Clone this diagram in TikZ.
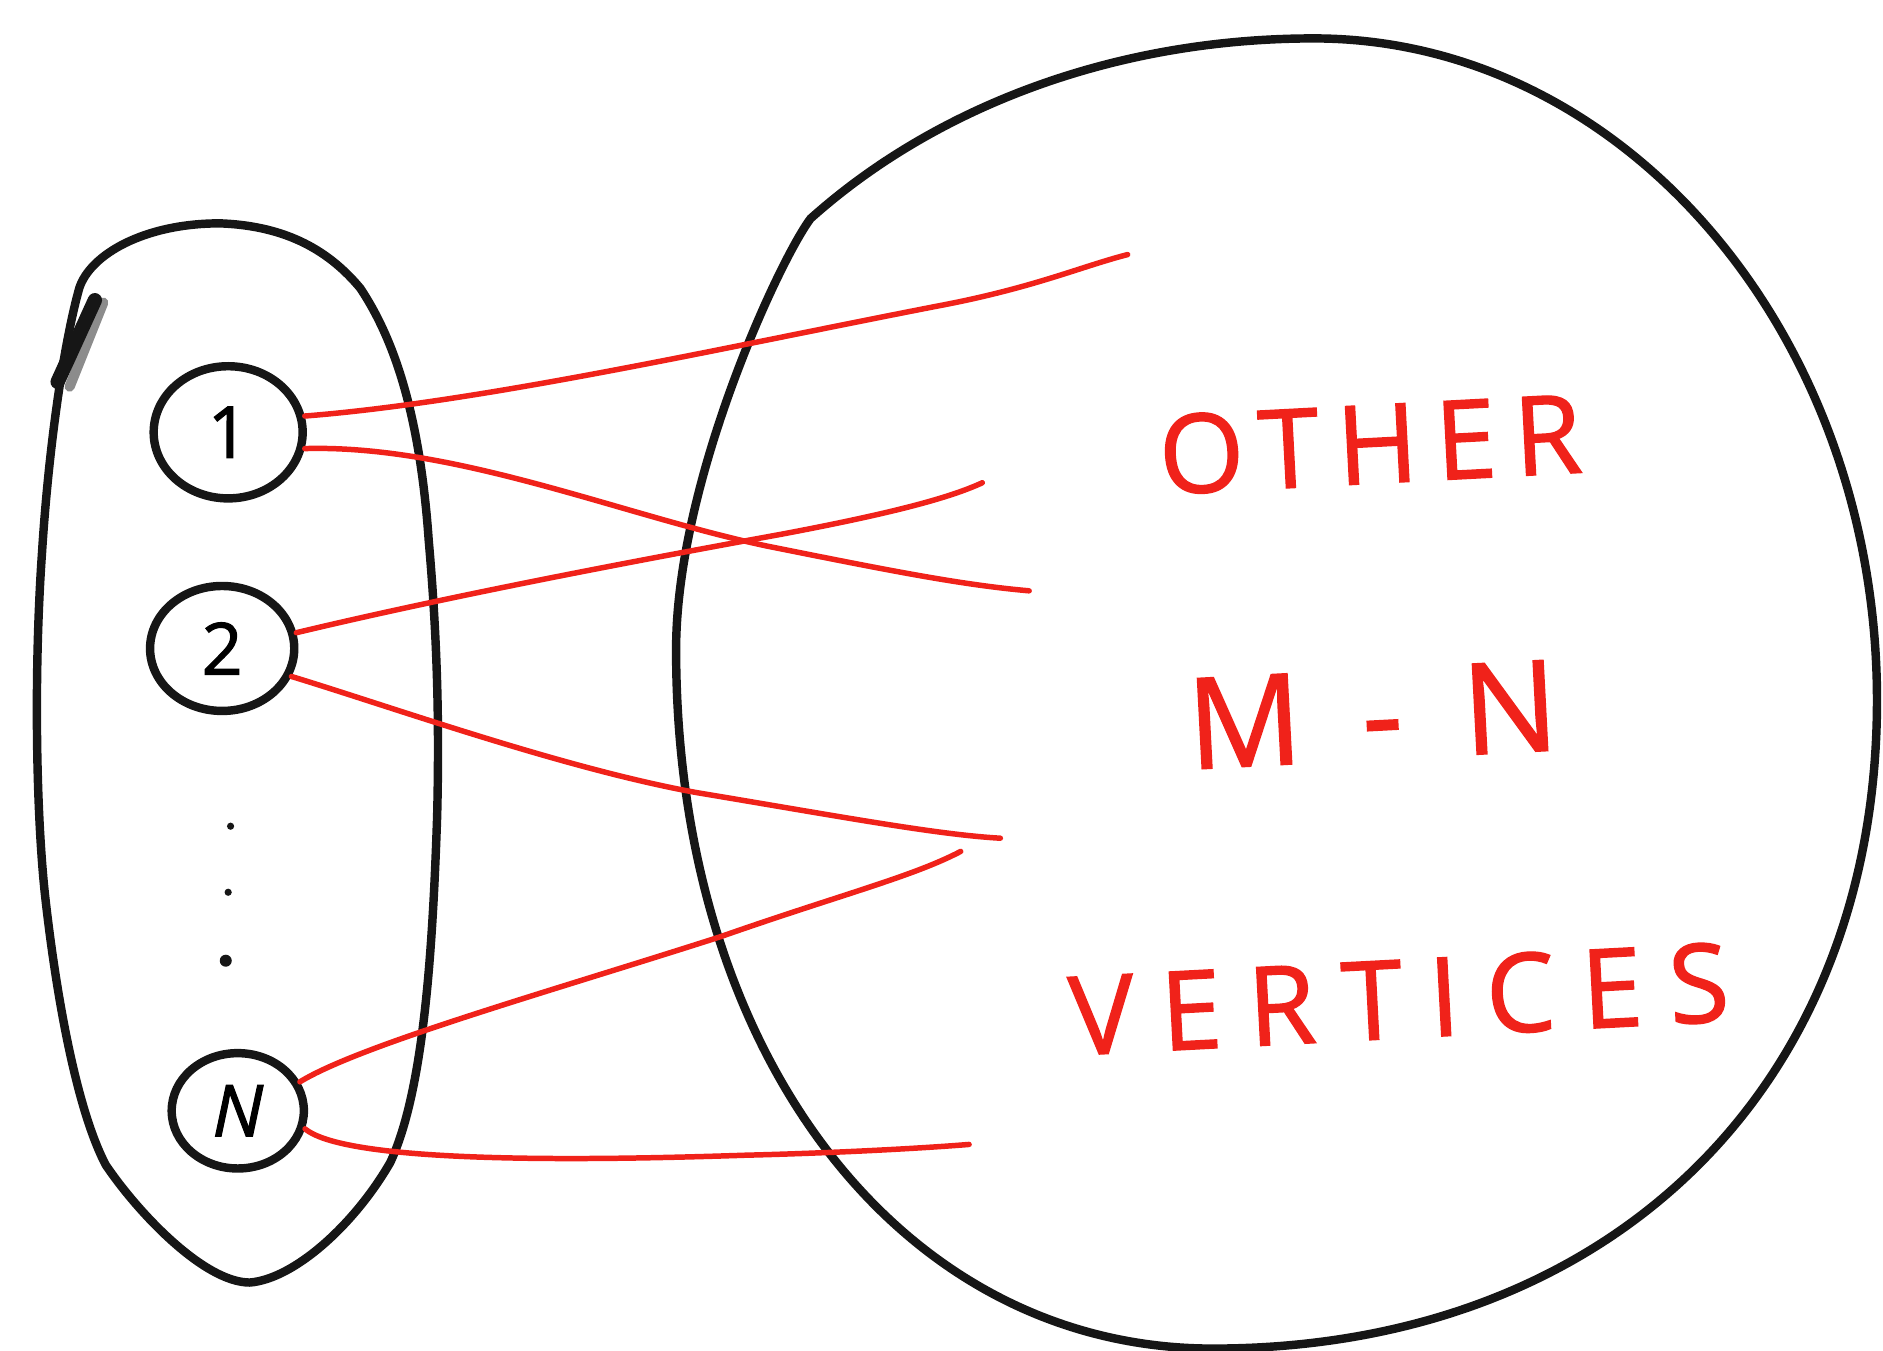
\documentclass[tikz,border=0pt]{standalone}
\usepackage{fontspec}
\usetikzlibrary{shapes.geometric}
\newfontfamily\hand{Open Sans}
\definecolor{pen}{RGB}{240,34,26}
\definecolor{ink}{RGB}{22,22,22}
\begin{document}
\begin{tikzpicture}[x=0.01cm,y=-0.01cm,
  blackline/.style={draw=ink,line width=2pt,line join=round,line cap=round},
  vertex/.style={ellipse,draw=ink,line width=2pt,inner sep=0pt,font=\hand\fontsize{17}{17}\selectfont\addfontfeature{FakeBold=1.5}},
  redline/.style={draw=pen,line width=1.3pt,line cap=round},
  wordtxt/.style={text=pen,inner sep=0pt,font=\hand\fontsize{26}{26}\selectfont\addfontfeature{FakeBold=1.2}}
]
\useasboundingbox (0,0) rectangle (1568,1125);
% left set
\draw[blackline] (183,186) .. controls (240,188) and (275,210) .. (300,240)
  .. controls (330,285) and (350,350) .. (357,450)
  .. controls (364,530) and (366,600) .. (364,680)
  .. controls (360,800) and (352,910) .. (325,968)
  .. controls (295,1020) and (245,1065) .. (208,1068)
  .. controls (170,1068) and (115,1010) .. (88,970)
  .. controls (62,920) and (46,820) .. (38,750)
  .. controls (30,680) and (28,560) .. (35,460)
  .. controls (40,380) and (52,290) .. (66,240)
  .. controls (75,212) and (120,186) .. cycle;
\draw[black!45,line width=2.4pt,line cap=round] (86,252) -- (58,322);
\draw[ink,line width=3.4pt,line cap=round] (79,250) -- (48,318);
% big set
\draw[blackline] (1094,32) .. controls (1353,32) and (1563,279) .. (1563,583)
  .. controls (1563,906) and (1340,1123) .. (1010,1123)
  .. controls (751,1123) and (563,879) .. (563,541)
  .. controls (563,400) and (650,215) .. (675,182)
  .. controls (780,88) and (930,32) .. cycle;
% vertices
\node[vertex,minimum width=1.24cm,minimum height=1.1cm] (n1) at (190,360) {1};
\node[vertex,minimum width=1.2cm,minimum height=1.04cm] (n2) at (185,540) {2};
\node[vertex,minimum width=1.1cm,minimum height=0.96cm] (nN) at (198,925) {\itshape N};
% dots
\fill[ink] (192,688) circle (3);
\fill[ink] (190,743) circle (3);
\fill[ink] (188,800) circle (5);
% free ends
\coordinate (e1) at (939,212);
\coordinate (e2) at (857,492);
\coordinate (e3) at (818,402);
\coordinate (e4) at (833,698);
\coordinate (e5) at (800,709);
\coordinate (e6) at (807,953);
% edges
\draw[redline] (n1.12) .. controls (400,335) and (600,290) .. (780,255) .. controls (860,240) and (900,222) .. (e1);
\draw[redline] (n1.-12) .. controls (380,370) and (520,430) .. (640,455) .. controls (740,475) and (800,487) .. (e2);
\draw[redline] (n2.12) .. controls (380,495) and (540,465) .. (650,445) .. controls (740,428) and (790,415) .. (e3);
\draw[redline] (n2.-22) .. controls (330,590) and (470,640) .. (580,660) .. controls (700,680) and (780,695) .. (e4);
\draw[redline] (nN.25) .. controls (300,870) and (460,825) .. (600,780) .. controls (700,745) and (760,730) .. (e5);
\draw[redline] (nN.-15) .. controls (290,970) and (500,966) .. (620,962) .. controls (700,960) and (770,956) .. (e6);
% words
\node[wordtxt,rotate=3] (w1) at (1141,370) {\addfontfeature{LetterSpace=16}OTHER};
\node[wordtxt,rotate=3,font=\hand\fontsize{30}{30}\selectfont\addfontfeature{FakeBold=1.2}] (w2) at (1143,595) {\addfontfeature{LetterSpace=12}M\hspace{0.5cm}-\hspace{0.5cm}N};
\node[wordtxt,rotate=3] (w3) at (1165,832) {\addfontfeature{LetterSpace=24}VERTICES};
\end{tikzpicture}
\end{document}
